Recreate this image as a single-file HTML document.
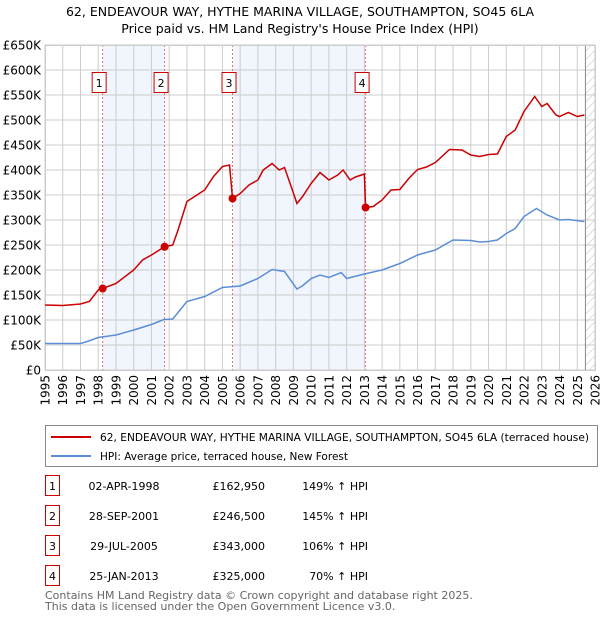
<!DOCTYPE html>
<html><head><meta charset="utf-8"><style>
body{margin:0;background:#fff;font-family:"Liberation Sans","DejaVu Sans",sans-serif;}
svg text{font-family:"DejaVu Sans","Liberation Sans",sans-serif;}
</style></head><body>
<svg id="c" width="600" height="620" xmlns="http://www.w3.org/2000/svg">
<defs><pattern id="hatch" width="6" height="6" patternUnits="userSpaceOnUse" patternTransform="rotate(45)"><line x1="0" y1="0" x2="0" y2="6" stroke="#bbb" stroke-width="1"/></pattern></defs>
<text x="300" y="16" text-anchor="middle" font-size="12.5" fill="#000">62, ENDEAVOUR WAY, HYTHE MARINA VILLAGE, SOUTHAMPTON, SO45 6LA</text>
<text x="300" y="33" text-anchor="middle" font-size="12.5" fill="#000">Price paid vs. HM Land Registry's House Price Index (HPI)</text>
<g id="plot"></g>
<g>
<rect x="45.5" y="425.5" width="552" height="41" fill="#fff" stroke="#888"/>
<line x1="51" y1="437" x2="91" y2="437" stroke="#cc0000" stroke-width="2"/>
<text x="100" y="441" font-size="11" textLength="489" lengthAdjust="spacingAndGlyphs">62, ENDEAVOUR WAY, HYTHE MARINA VILLAGE, SOUTHAMPTON, SO45 6LA (terraced house)</text>
<line x1="51" y1="456" x2="91" y2="456" stroke="#5b8ed6" stroke-width="2"/>
<text x="100" y="460" font-size="11" textLength="248" lengthAdjust="spacingAndGlyphs">HPI: Average price, terraced house, New Forest</text>
</g>
<g id="table" font-size="11"></g>
<text x="45" y="599" font-size="11" fill="#666">Contains HM Land Registry data © Crown copyright and database right 2025.</text>
<text x="45" y="610" font-size="11" fill="#666">This data is licensed under the Open Government Licence v3.0.</text>
</svg>
<script>
const yTicks=[0,50,100,150,200,250,300,350,400,450,500,550,600,650];
const yTickLabels=["£0","£50K","£100K","£150K","£200K","£250K","£300K","£350K","£400K","£450K","£500K","£550K","£600K","£650K"];
const xYears=[1995,1996,1997,1998,1999,2000,2001,2002,2003,2004,2005,2006,2007,2008,2009,2010,2011,2012,2013,2014,2015,2016,2017,2018,2019,2020,2021,2022,2023,2024,2025,2026];
const hpiT=[1995,1996,1997,1997.3,1998,1999,2000,2001,2001.7,2002.2,2003,2004,2005,2006,2007,2007.8,2008.5,2009.2,2009.5,2010,2010.5,2011,2011.7,2012,2013,2014,2015,2016,2017,2018,2019,2019.5,2020,2020.5,2021,2021.5,2022,2022.7,2023.3,2024,2024.5,2025.4];
const hpiV=[53,53,53,56,65,70,80,91,101,102,137,147,165,168,183,201,197,162,168,183,190,185,195,183,192,200,213,230,240,260,259,256,257,260,273,283,307,323,310,300,301,297];
const priceT=[1995,1996,1997,1997.5,1998,1998.25,1999,2000,2000.5,2001,2001.74,2002.2,2002.5,2003,2004,2004.5,2005,2005.4,2005.57,2006,2006.5,2007,2007.3,2007.8,2008.2,2008.5,2009,2009.2,2009.5,2010,2010.5,2011,2011.5,2011.8,2012.2,2012.5,2013,2013.07,2013.5,2014,2014.5,2015,2015.5,2016,2016.5,2017,2017.8,2018.5,2019,2019.5,2020,2020.5,2021,2021.5,2022,2022.6,2023,2023.3,2023.8,2024,2024.5,2025,2025.4];
const priceV=[130,129,132,137,160,163,173,200,220,230,246.5,250,280,337,360,387,407,410,343,353,370,380,400,413,400,405,354,333,346,373,395,380,390,400,380,386,392,325,327,340,360,361,383,401,406,415,441,440,430,427,431,432,467,480,517,547,527,533,510,507,515,507,510];
const saleT=[1998.25,2001.74,2005.57,2013.07];
const saleV=[162.95,246.5,343,325];
const saleLabels=["1","2","3","4"];
const saleDates=["02-APR-1998","28-SEP-2001","29-JUL-2005","25-JAN-2013"];
const salePrices=["£162,950","£246,500","£343,000","£325,000"];
const salePct=["149% ↑ HPI","145% ↑ HPI","106% ↑ HPI","70% ↑ HPI"];

const NS="http://www.w3.org/2000/svg";
const L=45,R=595,T=45,B=370;
const xS=t=>L+(t-1995)*(R-L)/31;
const yS=v=>B-v*(B-T)/650;
function mk(tag,attrs,parent){const e=document.createElementNS(NS,tag);for(const k in attrs)e.setAttribute(k,attrs[k]);parent.appendChild(e);return e;}
const g=document.getElementById('plot');
for(let i=0;i<saleT.length;i+=2){
 const r=mk('rect',{x:xS(saleT[i]),y:T,width:xS(saleT[i+1])-xS(saleT[i]),height:B-T,fill:'#eef3fd',opacity:0.8},g);
 
 
}
const hx=xS(2025.46);
const h=mk('rect',{x:hx,y:T,width:R-hx,height:B-T,fill:'url(#hatch)'},g);


yTicks.forEach((v,i)=>{
 const ln=mk('line',{x1:L,x2:R,y1:yS(v),y2:yS(v),stroke:'#ccc','stroke-width':1},g);
 
 
 const t=mk('text',{x:L-4,y:yS(v)+4.5,'text-anchor':'end','font-size':12},g);
 t.textContent=yTickLabels[i];
 
 
});
xYears.forEach(y=>{
 const ln=mk('line',{x1:xS(y),x2:xS(y),y1:T,y2:B,stroke:'#ccc','stroke-width':1},g);
 
 
 const t=mk('text',{x:0,y:0,'text-anchor':'end','font-size':12,transform:`translate(${xS(y)+4.5},${B+5}) rotate(-90)`},g);
 t.textContent=y;
 
 
});
const vl=mk('line',{x1:hx,x2:hx,y1:T,y2:B,stroke:'#888','stroke-width':1},g);


saleT.forEach((t,i)=>{
 const ln=mk('line',{x1:xS(t),x2:xS(t),y1:T,y2:B,stroke:'#e87070','stroke-width':1,'stroke-dasharray':'2,2'},g);
 
 
 const bx=mk('rect',{x:xS(t)-10.5,y:72.5,width:14,height:20,fill:'#fff',stroke:'#cc0000'},g);
 
 
 const tx=mk('text',{x:xS(t)-3.5,y:87,'text-anchor':'middle','font-size':11},g);
 tx.textContent=saleLabels[i];
 
 
});
const fr=mk('rect',{x:L+0.5,y:T+0.5,width:R-L,height:B-T,fill:'none',stroke:'#ccc'},g);


const hp=mk('polyline',{points:hpiT.map((t,i)=>xS(t)+','+yS(hpiV[i])).join(' '),fill:'none',stroke:'#5b8ed6','stroke-width':1.5},g);


const pp=mk('polyline',{points:priceT.map((t,i)=>xS(t)+','+yS(priceV[i])).join(' '),fill:'none',stroke:'#cc0000','stroke-width':1.5},g);


saleT.forEach((t,i)=>{
 const c=mk('circle',{cx:xS(t),cy:yS(saleV[i]),r:4,fill:'#cc0000'},g);
 
 
});
const tb=document.getElementById('table');
const rowY=[488,518,548,578];
saleLabels.forEach((s,i)=>{
 const y=rowY[i];
 const b=mk('rect',{x:45.5,y:y-12.5,width:14,height:20,fill:'#fff',stroke:'#cc0000'},tb);
 
 
 const a=mk('text',{x:52.5,y:y+2,'text-anchor':'middle'},tb);a.textContent=s;
 
 
 const d=mk('text',{x:124,y:y+2,'text-anchor':'middle'},tb);d.textContent=saleDates[i];
 
 
 const p=mk('text',{x:265,y:y+2,'text-anchor':'end'},tb);p.textContent=salePrices[i];
 
 
 const q=mk('text',{x:368,y:y+2,'text-anchor':'end'},tb);q.textContent=salePct[i];
 
 
});
</script>
</body></html>
